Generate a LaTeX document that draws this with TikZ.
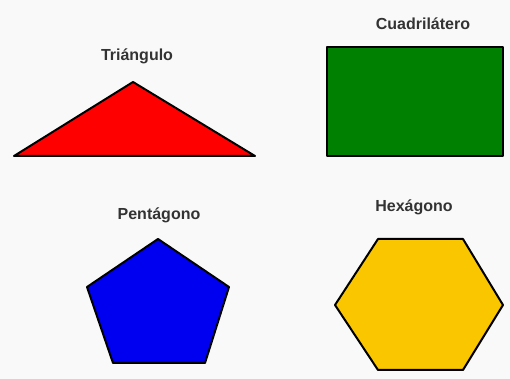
\documentclass[tikz,border=0pt]{standalone}
\usepackage{fontspec}
\setmainfont{Liberation Sans}
\usepackage{xcolor}
\definecolor{bgwhite}{RGB}{249,249,249}
\definecolor{shapegreen}{RGB}{0,128,0}
\definecolor{shapeblue}{RGB}{0,0,240}
\definecolor{shapegold}{RGB}{250,198,0}

\begin{document}
\begin{tikzpicture}[x=0.5pt, y=-0.5pt,
      title/.style={font=\fontsize{8}{9.6}\selectfont\bfseries, text=black!80, inner sep=0pt},
      figura/.style={draw=black, line width=1pt, line join=round}
    ]
      \fill[bgwhite] (0,0) rectangle (510,379);

      \node[title] (tri) at (137,56) {Triángulo};
      \node[title] (cuad) at (423,24) {Cuadrilátero};
      \node[title] (pent) at (159,215) {Pentágono};
      \node[title] (hex) at (414,207) {Hexágono};

      \draw[figura, fill=red] (14,156) -- (133,82) -- (255,156) -- cycle;
      \draw[figura, fill=shapegreen] (327,47) rectangle (503,156);
      \draw[figura, fill=shapeblue] (158,239) -- (229,287) -- (205,363) -- (113,363) -- (87,287) -- cycle;
      \draw[figura, fill=shapegold] (378,239) -- (463,239) -- (503,305) -- (463,370) -- (378,370) -- (335,305) -- cycle;
    \end{tikzpicture}
\end{document}
